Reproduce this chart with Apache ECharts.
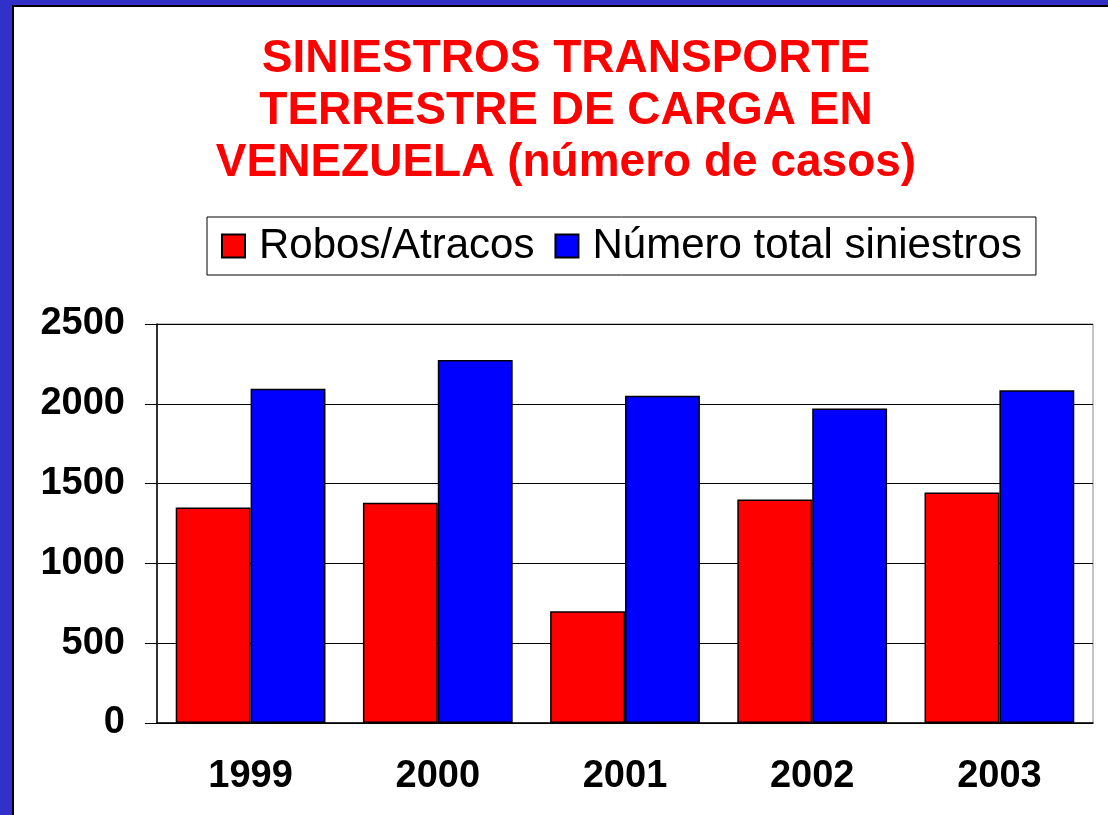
<!DOCTYPE html>
<html>
<head>
<meta charset="utf-8">
<title>Siniestros transporte terrestre de carga</title>
<script src="https://cdn.jsdelivr.net/npm/echarts@6/dist/echarts.min.js"></script>
<style>
    html, body { margin: 0; padding: 0; }
    #chart { width: 1108px; height: 815px; }
</style>
</head>
<body>
<div id="chart"></div>
<script>
// datos
var years = ['1999', '2000', '2001', '2002', '2003'];
var robos = [1350, 1380, 700, 1400, 1445];
var totalSiniestros = [2095, 2275, 2050, 1970, 2085];
var yTicks = [0, 500, 1000, 1500, 2000, 2500];

var font = '"Liberation Sans", Arial, sans-serif';

var chart = echarts.init(document.getElementById('chart'));
chart.setOption({
    backgroundColor: '#3131c9',
    animation: false,
    graphic: [{
        type: 'rect',
        z: -10,
        shape: { x: 13, y: 6, width: 1110, height: 820 },
        style: { fill: '#fff', stroke: '#000', lineWidth: 2 }
    }],
    title: {
        text: 'SINIESTROS TRANSPORTE\nTERRESTRE DE CARGA EN\nVENEZUELA (número de casos)',
        left: 566,
        top: 33,
        padding: 0,
        textAlign: 'center',
        textStyle: {
            color: '#ff0000',
            fontFamily: font,
            fontWeight: 'bold',
            fontSize: 46,
            lineHeight: 52
        }
    },
    legend: {
        left: 207,
        top: 217,
        padding: [8, 14, 8, 14],
        borderColor: '#000',
        borderWidth: 1,
        backgroundColor: '#fff',
        itemWidth: 23,
        itemHeight: 23,
        itemGap: 20,
        icon: 'rect',
        textStyle: {
            color: '#000',
            fontFamily: font,
            fontSize: 42,
            padding: [0, 0, 0, 9]
        },
        data: ['Robos/Atracos', 'Número total siniestros']
    },
    grid: {
        left: 157,
        top: 324,
        right: 15,
        bottom: 92,
        show: true,
        borderColor: '#888',
        borderWidth: 1,
        backgroundColor: 'transparent'
    },
    xAxis: {
        type: 'category',
        data: years,
        axisLine: { lineStyle: { color: '#000', width: 1.5 } },
        axisTick: { length: 11, lineStyle: { color: '#000' } },
        axisLabel: {
            color: '#000',
            fontFamily: font,
            fontWeight: 'bold',
            fontSize: 38,
            margin: 35
        }
    },
    yAxis: {
        type: 'value',
        min: yTicks[0],
        max: yTicks[yTicks.length - 1],
        interval: yTicks[1] - yTicks[0],
        axisLine: { show: true, lineStyle: { color: '#000', width: 1.5 } },
        axisTick: { show: true, length: 12, lineStyle: { color: '#000' } },
        splitLine: { lineStyle: { color: '#000', width: 1 } },
        axisLabel: {
            color: '#000',
            fontFamily: font,
            fontWeight: 'bold',
            fontSize: 38,
            margin: 32,
            formatter: function (v) { return String(v); }
        }
    },
    series: [{
        name: 'Robos/Atracos',
        type: 'bar',
        data: robos,
        barGap: '0%',
        barCategoryGap: '20%',
        itemStyle: { color: '#ff0000', borderColor: '#000', borderWidth: 1.5 }
    }, {
        name: 'Número total siniestros',
        type: 'bar',
        data: totalSiniestros,
        barGap: '0%',
        barCategoryGap: '20%',
        itemStyle: { color: '#0000ff', borderColor: '#000', borderWidth: 1.5 }
    }]
});
</script>
</body>
</html>
